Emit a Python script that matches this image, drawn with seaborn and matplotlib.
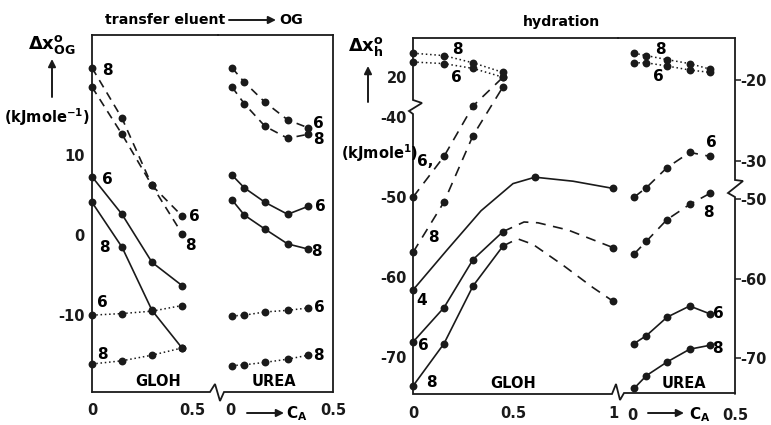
import matplotlib
matplotlib.use("Agg")
import matplotlib.pyplot as plt
import seaborn as sns
from matplotlib.lines import Line2D

# ---------------- data ----------------
# left panel: transfer eluent -> OG  (kJ/mol)
og_gloh_x = [0.0, 0.15, 0.30, 0.45]
og_gloh_dash8 = [20.9, 14.6, 6.2, 0.2]
og_gloh_dash6 = [18.5, 12.6, 6.2, 2.4]
og_gloh_solid6 = [7.3, 2.6, -3.4, -6.3]
og_gloh_solid8 = [4.1, -1.5, -9.4, -14.1]
og_gloh_dot6 = [-10.0, -9.8, -9.5, -8.8]
og_gloh_dot8 = [-16.1, -15.7, -15.0, -14.1]

urea_x = [0.01, 0.07, 0.17, 0.28, 0.38]
og_urea_dash6 = [20.9, 19.1, 16.6, 14.4, 13.4]
og_urea_dash8 = [18.5, 16.4, 13.6, 12.1, 12.6]
og_urea_solid6 = [7.5, 5.9, 4.1, 2.6, 3.6]
og_urea_solid8 = [4.4, 2.5, 0.75, -1.1, -1.75]
og_urea_dot6 = [-10.1, -10.0, -9.6, -9.4, -9.1]
og_urea_dot8 = [-16.3, -16.2, -15.9, -15.5, -15.0]

# right panel: hydration (values on the plotted left-axis scale)
hy_gloh_x = [0.0, 0.155, 0.30, 0.45]
hy_gloh_dot8 = [-32.0, -32.3, -33.2, -34.4]
hy_gloh_dot6 = [-33.1, -33.3, -33.9, -35.0]
hy_gloh_dash6 = [-50.0, -44.9, -38.6, -35.0]
hy_gloh_dash8 = [-56.9, -50.6, -42.3, -36.2]
hy_gloh_solid6 = [-68.1, -63.8, -57.8, -54.3]
hy_gloh_solid8 = [-73.6, -68.3, -61.1, -56.1]
# dashed continuations of the 6 and 8 curves (last value is a measured point)
hy_ext6_x = [0.45, 0.555, 0.625, 0.775, 1.0]
hy_ext6_y = [-54.3, -53.1, -53.2, -54.1, -56.3]
hy_ext8_x = [0.45, 0.523, 0.60, 0.75, 0.90, 1.0]
hy_ext8_y = [-56.1, -55.2, -55.9, -58.5, -61.3, -63.0]
# solid curve 4 (points at 0, 0.61 and 1.0)
hy_c4_x = [0.0, 0.17, 0.34, 0.50, 0.61, 0.80, 1.0]
hy_c4_y = [-61.6, -56.6, -51.7, -48.3, -47.5, -48.0, -48.9]
hy_c4_marks = [0, 4, 6]

hy_urea_dot8 = [-32.0, -32.3, -32.8, -33.3, -34.0]
hy_urea_dot6 = [-33.2, -33.2, -33.6, -34.1, -34.4]
hy_urea_dash6 = [-50.0, -48.8, -46.3, -44.4, -44.9]
hy_urea_dash8 = [-57.1, -55.5, -52.8, -50.9, -49.5]
hy_urea_solid6 = [-68.3, -67.3, -65.0, -63.6, -64.6]
hy_urea_solid8 = [-73.9, -72.3, -70.6, -69.0, -68.5]

og_yticks = [-10, 0, 10]
og_yticklabels = ["-10", "0", "10"]
hy_left_ticks = [-35, -40, -50, -60, -70]
hy_left_labels = ["20", "-40", "-50", "-60", "-70"]
hy_right_ticks = [-35.4, -45.5, -50.25, -60.25, -70.1]
hy_right_labels = ["-20", "-30", "-50", "-60", "-70"]

# ---------------- figure ----------------
sns.set_theme(style="white")
plt.rcParams["font.family"] = ["DejaVu Sans"]
plt.rcParams["font.weight"] = "bold"
plt.rcParams["mathtext.fontset"] = "dejavusans"
for key in ("text.color", "axes.labelcolor", "xtick.color", "ytick.color",
            "axes.edgecolor"):
    plt.rcParams[key] = "black"

W, H = 771, 425
fig = plt.figure(figsize=(W / 100, H / 100), dpi=100)
fig.patch.set_facecolor("white")


def add_ax(x0, x1, ytop, ybot):
    return fig.add_axes([x0 / W, 1 - ybot / H, (x1 - x0) / W, (ybot - ytop) / H])


def fline(pts, lw=1.3):
    xs = [p[0] / W for p in pts]
    ys = [1 - p[1] / H for p in pts]
    fig.add_artist(Line2D(xs, ys, transform=fig.transFigure, color="k", lw=lw,
                          solid_joinstyle="miter"))


def ftext(x, y, s, **kw):
    kw.setdefault("fontsize", 10.5)
    kw.setdefault("fontweight", "bold")
    fig.text(x / W, 1 - y / H, s, ha=kw.pop("ha", "center"), va=kw.pop("va", "center"),
             color="black", **kw)


def farrow(p0, p1, lw=1.4):
    fig.add_artist(matplotlib.patches.FancyArrowPatch(
        (p0[0] / W, 1 - p0[1] / H), (p1[0] / W, 1 - p1[1] / H),
        transform=fig.transFigure, arrowstyle="-|>", mutation_scale=11,
        color="k", lw=lw, shrinkA=0, shrinkB=0))


DASH = (0, (5, 3.6))
LDASH = (0, (6, 4.5))
DOT = (0, (1, 1.8))


def curve(ax, x, y, ls, marks=None, lw=1.2):
    sns.lineplot(x=x, y=y, ax=ax, color="k", linestyle=ls, lw=lw, sort=False,
                 estimator=None, legend=False, clip_on=False)
    if marks is None:
        mx, my = x, y
    else:
        mx = [x[i] for i in marks]
        my = [y[i] for i in marks]
    if len(mx):
        sns.scatterplot(x=mx, y=my, ax=ax, color="k", s=32, linewidth=0,
                        legend=False, zorder=4, clip_on=False)


def lab(ax, x, y, s, size=11):
    ax.text(x, y, s, fontsize=size, fontweight="bold", ha="center", va="center",
            color="black")


# axes
axA = add_ax(92, 218, 35, 392)    # transfer, GLOH
axB = add_ax(218, 333, 35, 392)   # transfer, UREA
axC = add_ax(413, 618, 38, 394)   # hydration, GLOH
axD = add_ax(618, 735, 38, 394)   # hydration, UREA

# ---- left panel curves
curve(axA, og_gloh_x, og_gloh_dash8, DASH)
curve(axA, og_gloh_x, og_gloh_dash6, DASH)
curve(axA, og_gloh_x, og_gloh_solid6, "-")
curve(axA, og_gloh_x, og_gloh_solid8, "-")
curve(axA, og_gloh_x, og_gloh_dot6, DOT, lw=1.1)
curve(axA, og_gloh_x, og_gloh_dot8, DOT, lw=1.1)

curve(axB, urea_x, og_urea_dash6, DASH)
curve(axB, urea_x, og_urea_dash8, DASH)
curve(axB, urea_x, og_urea_solid6, "-")
curve(axB, urea_x, og_urea_solid8, "-")
curve(axB, urea_x, og_urea_dot6, DOT, lw=1.1)
curve(axB, urea_x, og_urea_dot8, DOT, lw=1.1)

# ---- right panel curves
curve(axC, hy_gloh_x, hy_gloh_dot8, DOT, lw=1.1)
curve(axC, hy_gloh_x, hy_gloh_dot6, DOT, lw=1.1)
curve(axC, hy_gloh_x, hy_gloh_dash6, LDASH)
curve(axC, hy_gloh_x, hy_gloh_dash8, LDASH)
curve(axC, hy_gloh_x, hy_gloh_solid6, "-")
curve(axC, hy_gloh_x, hy_gloh_solid8, "-")
curve(axC, hy_ext6_x, hy_ext6_y, LDASH, marks=[len(hy_ext6_x) - 1])
curve(axC, hy_ext8_x, hy_ext8_y, LDASH, marks=[len(hy_ext8_x) - 1])
curve(axC, hy_c4_x, hy_c4_y, "-", marks=hy_c4_marks)

curve(axD, urea_x, hy_urea_dot8, DOT, lw=1.1)
curve(axD, urea_x, hy_urea_dot6, DOT, lw=1.1)
curve(axD, urea_x, hy_urea_dash6, LDASH)
curve(axD, urea_x, hy_urea_dash8, LDASH)
curve(axD, urea_x, hy_urea_solid6, "-")
curve(axD, urea_x, hy_urea_solid8, "-")

# ---- limits
axA.set_xlim(0, 0.63)
axB.set_xlim(-0.058, 0.5)
for a in (axA, axB):
    a.set_ylim(-19.6, 25)
axC.set_xlim(0, 1.025)
axD.set_xlim(-0.068, 0.5)
for a in (axC, axD):
    a.set_ylim(-74.6, -30.1)

for a in (axA, axB, axC, axD):
    a.set_facecolor("none")
    a.set_xlabel("")
    a.set_ylabel("")
    for s in a.spines.values():
        s.set_visible(False)
        s.set_linewidth(1.3)
        s.set_color("k")
    a.spines["top"].set_visible(True)
    a.tick_params(axis="both", direction="out", length=4, width=1.1, color="k",
                  labelcolor="k", labelsize=10.5, pad=1.5)

axA.spines["left"].set_visible(True)
axB.spines["right"].set_visible(True)

# ticks
axA.set_yticks(og_yticks, og_yticklabels, fontweight="bold")
axA.set_xticks([0, 0.5], ["0", "0.5"], fontweight="bold")
axA.tick_params(axis="x", length=0, pad=8)
axB.set_yticks([])
axB.set_xticks([0, 0.5], ["0", "0.5"], fontweight="bold")
axB.tick_params(axis="x", length=4, pad=4)

axC.set_yticks(hy_left_ticks, hy_left_labels, fontweight="bold")
axC.tick_params(axis="y", pad=0.5)
axC.set_xticks([0, 0.5, 1], ["0", "0.5", "1"], fontweight="bold")
axC.tick_params(axis="x", length=0, pad=9)
axD.yaxis.tick_right()
axD.set_yticks(hy_right_ticks, hy_right_labels, fontweight="bold")
axD.tick_params(axis="y", length=4, pad=0)
axD.set_xticks([0, 0.5], ["0", "0.5"], fontweight="bold")
axD.tick_params(axis="x", length=4, pad=6)

# ---- frame pieces with breaks
fline([(92, 392), (210, 392), (215, 384), (220, 401), (224, 392), (333, 392)])
fline([(413, 38), (413, 100), (422, 103), (409, 111), (413, 114), (413, 394),
       (612, 394), (616, 384), (620, 400), (624, 393), (735, 393)])
fline([(735, 38), (735, 180), (743, 181), (728, 193), (735, 197), (735, 394)])

# ---- curve labels (left)
lab(axA, 0.078, 20.6, "8")
lab(axA, 0.078, 6.9, "6")
lab(axA, 0.063, -1.5, "8")
lab(axA, 0.053, -8.4, "6")
lab(axA, 0.053, -14.9, "8")
lab(axA, 0.51, 2.3, "6")
lab(axA, 0.49, -1.3, "8")
lab(axA, 0.33, -18.3, "GLOH", size=10.5)
lab(axB, 0.43, 14.0, "6")
lab(axB, 0.43, 12.0, "8")
lab(axB, 0.437, 3.6, "6")
lab(axB, 0.422, -2.0, "8")
lab(axB, 0.432, -9.0, "6")
lab(axB, 0.427, -15.1, "8")
lab(axB, 0.214, -18.3, "UREA", size=10.5)

# ---- curve labels (right)
lab(axC, 0.22, -31.6, "8")
lab(axC, 0.215, -35.0, "6")
lab(axC, 0.06, -45.6, "6,")
lab(axC, 0.10, -55.0, "8")
lab(axC, 0.045, -62.9, "4")
lab(axC, 0.05, -68.5, "6")
lab(axC, 0.09, -73.2, "8")
lab(axC, 0.50, -73.3, "GLOH", size=10.5)
lab(axD, 0.136, -31.6, "8")
lab(axD, 0.126, -34.9, "6")
lab(axD, 0.383, -43.2, "6")
lab(axD, 0.37, -51.9, "8")
lab(axD, 0.417, -64.6, "6")
lab(axD, 0.417, -68.9, "8")
lab(axD, 0.25, -73.3, "UREA", size=10.5)

# ---- titles and axis labels
ftext(165, 20, "transfer eluent", fontsize=10.2)
farrow((229, 20), (276, 20))
ftext(291, 20, "OG", fontsize=10.2)
ftext(561, 22, "hydration", fontsize=10.2)

ftext(52, 44, r"$\Delta\mathrm{x}^{\mathrm{o}}_{\mathrm{OG}}$", fontsize=13)
farrow((52, 97), (52, 59))
ftext(47, 117, r"(kJmole$^{\mathbf{-1}}$)", fontsize=10.5)

ftext(366, 47, r"$\Delta\mathrm{x}^{\mathrm{o}}_{\mathrm{h}}$", fontsize=13)
farrow((368, 102), (368, 66))
ftext(380, 153, r"(kJmole$^{\mathbf{1}}$)", fontsize=10.5)

farrow((247, 413), (284, 413))
ftext(297, 414, r"$\mathbf{C_A}$", fontsize=11)
farrow((648, 413), (684, 413))
ftext(700, 415, r"$\mathbf{C_A}$", fontsize=11)

fig.savefig("out.png", dpi=100, facecolor="white")
